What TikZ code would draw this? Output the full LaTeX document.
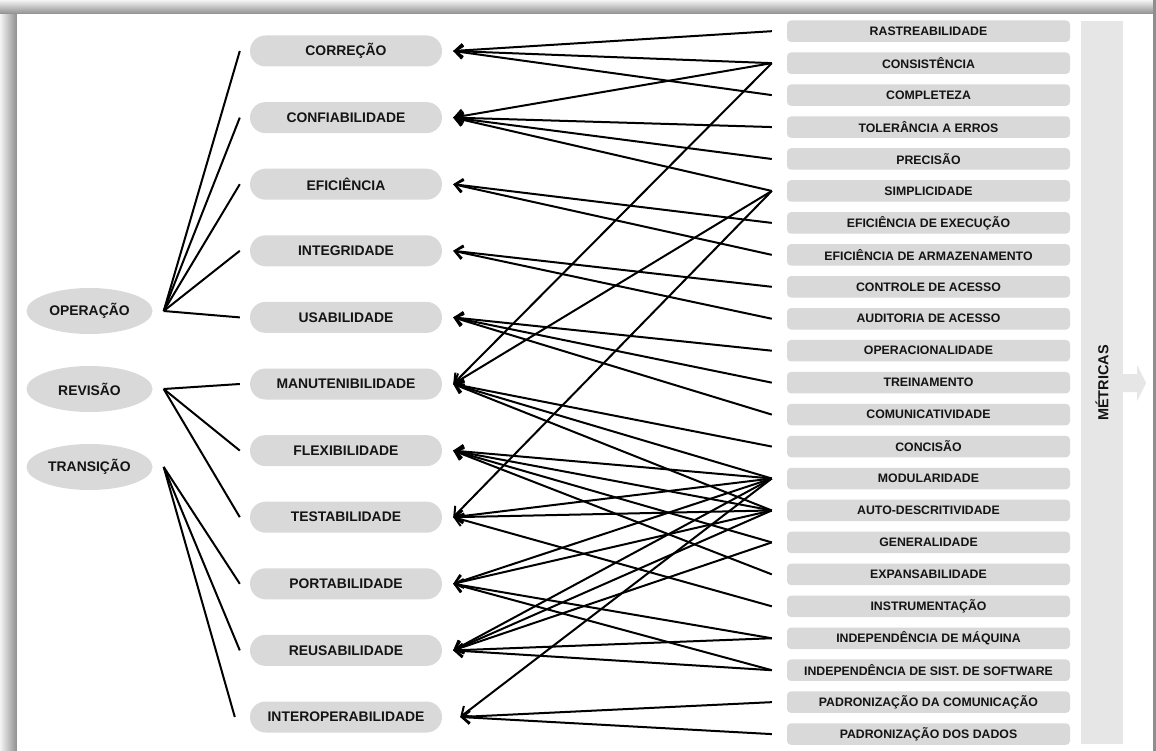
\documentclass[tikz,border=0pt]{standalone}
\usepackage{fontspec}
\setmainfont{Liberation Sans}
\usetikzlibrary{arrows.meta,calc,shapes.geometric}
\definecolor{pillgray}{HTML}{D9D9D9}
\definecolor{colgray}{HTML}{E6E6E6}
\definecolor{rimdark}{HTML}{8E8E8E}
\definecolor{rimlight}{HTML}{F4F4F4}
\definecolor{ink}{HTML}{141414}
\begin{document}
\begin{tikzpicture}[x=1pt,y=-1pt,
  catnode/.style={ellipse, fill=pillgray, minimum width=126pt, minimum height=46pt,
    inner sep=0pt, text=ink, font=\bfseries\fontsize{13.9}{16}\selectfont},
  factnode/.style={rectangle, rounded corners=15.5pt, fill=pillgray, minimum width=192pt,
    minimum height=31pt, inner sep=0pt, text=ink, font=\bfseries\fontsize{13.9}{16}\selectfont},
  metnode/.style={rectangle, rounded corners=4pt, fill=pillgray, minimum width=283pt,
    minimum height=21.5pt, inner sep=0pt, text=ink, font=\bfseries\fontsize{12.3}{14}\selectfont},
  link/.style={draw=black, line width=2pt},
  conn/.style={draw=black, line width=2pt, -{Straight Barb[length=8pt,width=13pt,line width=2pt]}}]

\useasboundingbox (0,0) rectangle (1156,751);

% frame with shadowed rim
\fill[white] (0,0) rectangle (1156,751);
\shade[left color=rimlight, right color=rimdark] (0,0) rectangle (17,751);
\shade[top color=rimlight, bottom color=rimdark] (0,0) rectangle (1156,14);
\fill[rimdark] (1153,0) rectangle (1156,751);
\fill[white] (17,14) rectangle (1153,751);

% metrics column with arrow
\fill[colgray] (1081,21) rectangle (1123,744);
\fill[colgray] (1123,374) -- (1137,374) -- (1137,365) -- (1146,383) -- (1137,401)
  -- (1137,392) -- (1123,392) -- cycle;
\node[rotate=90, text=ink, font=\bfseries\fontsize{14.5}{16}\selectfont] (metricas) at (1102,383) {MÉTRICAS};

% categories
\node[catnode] (oper) at (89.5,311) {OPERAÇÃO};
\node[catnode] (rev)  at (89.5,389) {REVISÃO};
\node[catnode] (tra)  at (89.5,467) {TRANSIÇÃO};

% quality factors
\node[factnode] (cor)   at (346,51)    {CORREÇÃO};
\node[factnode] (conf)  at (346,117.6) {CONFIABILIDADE};
\node[factnode] (efi)   at (346,184.2) {EFICIÊNCIA};
\node[factnode] (intg)  at (346,250.8) {INTEGRIDADE};
\node[factnode] (usa)   at (346,317.4) {USABILIDADE};
\node[factnode] (man)   at (346,384)   {MANUTENIBILIDADE};
\node[factnode] (flex)  at (346,450.6) {FLEXIBILIDADE};
\node[factnode] (test)  at (346,517.2) {TESTABILIDADE};
\node[factnode] (port)  at (346,583.8) {PORTABILIDADE};
\node[factnode] (reus)  at (346,650.4) {REUSABILIDADE};
\node[factnode] (inter) at (346,717)   {INTEROPERABILIDADE};

% criteria
\node[metnode] (ras)  at (928.5,31.2)  {RASTREABILIDADE};
\node[metnode] (cons) at (928.5,63.15) {CONSISTÊNCIA};
\node[metnode] (comp) at (928.5,95.1)  {COMPLETEZA};
\node[metnode] (tol)  at (928.5,127.05){TOLERÂNCIA A ERROS};
\node[metnode] (prec) at (928.5,159)   {PRECISÃO};
\node[metnode] (simp) at (928.5,190.95){SIMPLICIDADE};
\node[metnode] (eex)  at (928.5,222.9) {EFICIÊNCIA DE EXECUÇÃO};
\node[metnode] (earm) at (928.5,254.85){EFICIÊNCIA DE ARMAZENAMENTO};
\node[metnode] (ctrl) at (928.5,286.8) {CONTROLE DE ACESSO};
\node[metnode] (aud)  at (928.5,318.75){AUDITORIA DE ACESSO};
\node[metnode] (opc)  at (928.5,350.7) {OPERACIONALIDADE};
\node[metnode] (trei) at (928.5,382.65){TREINAMENTO};
\node[metnode] (comu) at (928.5,414.6) {COMUNICATIVIDADE};
\node[metnode] (conc) at (928.5,446.55){CONCISÃO};
\node[metnode] (mod)  at (928.5,478.5) {MODULARIDADE};
\node[metnode] (auto) at (928.5,510.45){AUTO-DESCRITIVIDADE};
\node[metnode] (gen)  at (928.5,542.4) {GENERALIDADE};
\node[metnode] (exp)  at (928.5,574.35){EXPANSABILIDADE};
\node[metnode] (inst) at (928.5,606.3) {INSTRUMENTAÇÃO};
\node[metnode] (imaq) at (928.5,638.25){INDEPENDÊNCIA DE MÁQUINA};
\node[metnode] (isis) at (928.5,670.2) {INDEPENDÊNCIA DE SIST. DE SOFTWARE};
\node[metnode] (pcom) at (928.5,702.15){PADRONIZAÇÃO DA COMUNICAÇÃO};
\node[metnode] (pdad) at (928.5,734.1) {PADRONIZAÇÃO DOS DADOS};

% connection points beside the nodes
\foreach \c in {oper,rev,tra}
  \coordinate (\c-r) at ([xshift=11pt]\c.east);
\foreach \f in {cor,conf,efi,intg,usa,man,flex,test,port,reus}{
  \coordinate (\f-l) at ([xshift=-10pt]\f.west);
  \coordinate (\f-r) at ([xshift=11pt]\f.east);
}
\coordinate (inter-l) at ([xshift=-15pt]inter.west);
\coordinate (inter-r) at ([xshift=18pt]inter.east);
\foreach \m in {ras,cons,comp,tol,prec,simp,eex,earm,ctrl,aud,opc,trei,comu,conc,
  mod,auto,gen,exp,inst,imaq,isis,pcom,pdad}
  \coordinate (\m-l) at ([xshift=-15pt]\m.west);

% categories to factors
\foreach \c/\f in {oper/cor,oper/conf,oper/efi,oper/intg,oper/usa,
  rev/man,rev/flex,rev/test,tra/port,tra/reus,tra/inter}
  \draw[link] (\c-r) -- (\f-l);

% criteria to factors
\foreach \m/\f in {ras/cor,cons/cor,comp/cor,
  cons/conf,tol/conf,prec/conf,simp/conf,
  eex/efi,earm/efi,
  ctrl/intg,aud/intg,
  opc/usa,trei/usa,comu/usa,
  cons/man,simp/man,conc/man,mod/man,auto/man,
  mod/flex,auto/flex,gen/flex,exp/flex,
  simp/test,mod/test,auto/test,inst/test,
  mod/port,auto/port,imaq/port,isis/port,
  mod/reus,auto/reus,gen/reus,imaq/reus,isis/reus,
  mod/inter,pcom/inter,pdad/inter}
  \draw[conn] (\m-l) -- (\f-r);
\end{tikzpicture}
\end{document}
